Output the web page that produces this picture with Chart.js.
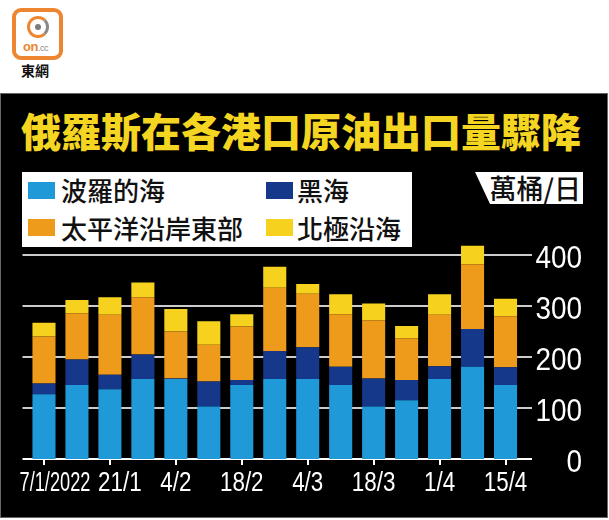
<!DOCTYPE html>
<html>
<head>
<meta charset="utf-8">
<script src="https://cdn.jsdelivr.net/npm/chart.js@4.4.0/dist/chart.umd.min.js"></script>
<style>
  html, body { margin: 0; padding: 0; background: #fff; }
  body { width: 609px; height: 520px; position: relative; overflow: hidden; font-family: 'Noto Sans CJK TC', sans-serif; }
  .logo { position: absolute; left: 12px; top: 8px; width: 43px; height: 44px; border: 4px solid #ee8631; border-radius: 9px; background: #fff; }
  .ring { position: absolute; left: 11px; top: 4px; width: 16px; height: 16px; border: 3px solid #ee8631; border-right-color: #8a8a8a; border-radius: 50%; }
  .dot { position: absolute; left: 19px; top: 12px; width: 6px; height: 6px; border-radius: 50%; background: #7a7a7a; }
  .oncc { position: absolute; left: 7px; top: 27px; font: bold 13px 'Liberation Sans', sans-serif; color: #ee8631; letter-spacing: -0.5px; }
  .oncc span { font-size: 9px; color: #888; font-weight: normal; }
  .brand { position: absolute; left: 21px; top: 62px; font-size: 14px; line-height: 16px; font-weight: bold; color: #111; }
  .panel { position: absolute; left: 0; top: 93px; width: 606px; height: 423px; background: #000; border: 1px solid #666; }
  .title { position: absolute; left: 21px; top: 110px; font-size: 40px; line-height: 40px; font-weight: 900; color: #f4d521; white-space: nowrap; }
  .legend { position: absolute; left: 22px; top: 172px; width: 390px; height: 75px; background: #fff; }
  .sw { position: absolute; width: 27px; height: 17px; }
  .lt { position: absolute; font-size: 26px; line-height: 26px; font-weight: 500; color: #111; white-space: nowrap; }
  .unit { position: absolute; left: 475px; top: 172px; width: 108px; height: 32px; background: #fff;
          clip-path: polygon(0 0, 100% 0, 100% 100%, 15px 100%); }
  .unit div { position: absolute; right: 2px; top: 0; font-size: 27px; line-height: 32px; font-weight: 500; color: #111; white-space: nowrap; }
  .wrap { position: absolute; left: 0; top: 220px; width: 609px; height: 300px; }
</style>
</head>
<body>
<div class="logo">
  <div class="ring"></div>
  <div class="dot"></div>
  <div class="oncc">on<span>.cc</span></div>
</div>
<div class="brand">東網</div>
<div class="panel"></div>
<div class="title" id="title"></div>
<div class="legend" id="legend"></div>
<div class="unit"><div id="unit"></div></div>
<div class="wrap"><canvas id="chart"></canvas></div>

<script>
// weekly crude exports by port region, 10k barrels/day
const categories = ['7/1/2022', '14/1', '21/1', '28/1', '4/2', '11/2', '18/2', '25/2',
                    '4/3', '11/3', '18/3', '25/3', '1/4', '8/4', '15/4'];
const baltic   = [127, 145, 137, 157, 157, 103, 145, 157, 157, 145, 103, 115, 157, 181, 145];
const blackSea = [21, 50, 28, 48, 1, 49, 10, 55, 62, 36, 55, 40, 25, 74, 35];
const pacific  = [92, 91, 118, 112, 92, 72, 105, 124, 105, 103, 114, 82, 101, 127, 100];
const arctic   = [27, 26, 34, 29, 44, 46, 24, 41, 19, 39, 33, 24, 40, 36, 34];
const yTicks = [0, 100, 200, 300, 400];

const seriesNames = ['波羅的海', '黑海', '太平洋沿岸東部', '北極沿海'];
const seriesColors = ['#1f99d8', '#15388b', '#ee9a1b', '#f6d21f'];
const titleText = '俄羅斯在各港口原油出口量驟降';
const unitText = '萬桶/日';

document.getElementById('title').textContent = titleText;
document.getElementById('unit').textContent = unitText;

// legend laid out in two columns, two rows
const legendPos = [[6, 10, 39, 5], [244, 10, 275, 5], [6, 47, 39, 43], [244, 47, 275, 43]];
const legend = document.getElementById('legend');
seriesNames.forEach((name, i) => {
    const p = legendPos[i];
    const sw = document.createElement('div');
    sw.className = 'sw';
    sw.style.left = p[0] + 'px';
    sw.style.top = p[1] + 'px';
    sw.style.background = seriesColors[i];
    legend.appendChild(sw);
    const t = document.createElement('div');
    t.className = 'lt';
    t.style.left = p[2] + 'px';
    t.style.top = p[3] + 'px';
    t.textContent = name;
    legend.appendChild(t);
});

// horizontal grid lines run a bit past the bars, as in the print graphic
const wideGrid = {
    id: 'wideGrid',
    beforeDatasetsDraw(chart) {
        const y = chart.scales.y;
        const area = chart.chartArea;
        const ctx = chart.ctx;
        ctx.save();
        y.ticks.forEach(t => {
            const py = Math.round(y.getPixelForValue(t.value));
            ctx.strokeStyle = t.value === 0 ? '#ffffff' : '#cccccc';
            ctx.lineWidth = 2;
            ctx.beginPath();
            ctx.moveTo(area.left - 5, py);
            ctx.lineTo(area.right + 10, py);
            ctx.stroke();
        });
        ctx.restore();
    }
};

// condensed tick labels (no narrow font installed, so squeeze the text)
const labelShift = { 0: 11, 2: 10 };
const labelSqueeze = { 0: 0.65 };
const squeezedLabels = {
    id: 'squeezedLabels',
    afterDraw(chart) {
        const ctx = chart.ctx;
        const x = chart.scales.x;
        const y = chart.scales.y;
        ctx.save();
        ctx.fillStyle = '#ffffff';
        ctx.textBaseline = 'alphabetic';

        ctx.font = "28px 'Liberation Sans', sans-serif";
        ctx.textAlign = 'center';
        categories.forEach((c, i) => {
            if (i % 2) return;
            const px = x.getPixelForTick(i) + (labelShift[i] || 0);
            ctx.save();
            ctx.translate(px, x.top + 32);
            ctx.scale(labelSqueeze[i] || 0.8, 1);
            ctx.fillText(c, 0, 0);
            ctx.restore();
        });

        ctx.font = "31px 'Liberation Sans', sans-serif";
        ctx.textAlign = 'right';
        yTicks.forEach(v => {
            const py = y.getPixelForValue(v);
            ctx.save();
            ctx.translate(chart.chartArea.right + 60, py + 12.5);
            ctx.scale(0.9, 1);
            ctx.fillText(String(v), 0, 0);
            ctx.restore();
        });
        ctx.restore();
    }
};

const data = [baltic, blackSea, pacific, arctic];

new Chart(document.getElementById('chart'), {
    type: 'bar',
    data: {
        labels: categories,
        datasets: data.map((d, i) => ({
            label: seriesNames[i],
            data: d,
            backgroundColor: seriesColors[i],
            borderWidth: 0,
            barPercentage: 0.7,
            categoryPercentage: 1
        }))
    },
    options: {
        responsive: true,
        maintainAspectRatio: false,
        animation: false,
        layout: { padding: { left: 27.5, right: 27, top: 14.6, bottom: 0 } },
        plugins: {
            legend: { display: false },
            tooltip: { enabled: false }
        },
        scales: {
            x: {
                stacked: true,
                afterFit(scale) { scale.height = 61; },
                border: { display: false },
                grid: {
                    offset: false,
                    drawOnChartArea: false,
                    drawTicks: true,
                    tickLength: 6,
                    lineWidth: 2,
                    color: ctx => ctx.index % 2 === 0 ? '#ffffff' : 'rgba(0,0,0,0)'
                },
                ticks: { display: false }
            },
            y: {
                stacked: true,
                position: 'right',
                min: 0,
                max: 440,
                afterFit(scale) { scale.width = 60; },
                afterBuildTicks(scale) {
                    scale.ticks = yTicks.map(v => ({ value: v }));
                },
                border: { display: false },
                grid: { display: false, drawTicks: false },
                ticks: { display: false }
            }
        }
    },
    plugins: [wideGrid, squeezedLabels]
});
</script>
</body>
</html>
